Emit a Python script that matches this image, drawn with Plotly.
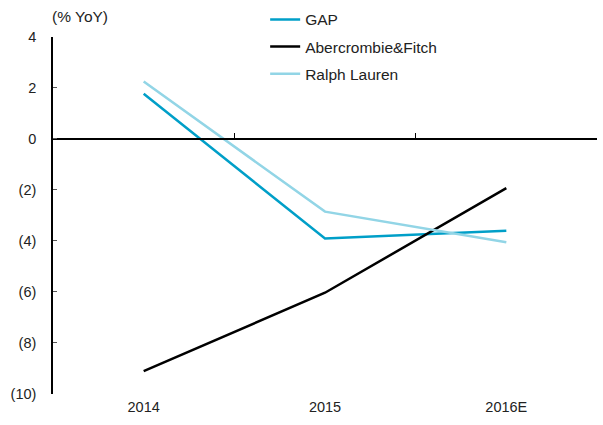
import plotly.graph_objects as go

years = ["2014", "2015", "2016E"]
gap = [1.77, -3.9, -3.6]
abercrombie = [-9.1, -6.03, -1.93]
ralph_lauren = [2.25, -2.85, -4.05]

y_ticks = [4, 2, 0, -2, -4, -6, -8, -10]
y_labels = ["4", "2", "0", "(2)", "(4)", "(6)", "(8)", "(10)"]

font = "Liberation Sans, Arial, sans-serif"

W, H = 603, 425
top_m, bot_m = 4, 31
plot_top = 36  # pixel row of the value 4
dom_top = (H - bot_m - plot_top) / (H - bot_m - top_m)
plot_h = H - bot_m - top_m

fig = go.Figure()
series = [("GAP", gap, "#009fc8"),
          ("Abercrombie&Fitch", abercrombie, "#000000"),
          ("Ralph Lauren", ralph_lauren, "#92d5e6")]
for name, vals, color in series:
    fig.add_trace(go.Scatter(x=years, y=vals, name=name, mode="lines",
                             line=dict(color=color, width=2.5),
                             legendgroup=name))

# invisible trace so the zero-line axis knows the categories
fig.add_trace(go.Scatter(x=years, y=[None, None, None], xaxis="x2",
                         showlegend=False, hoverinfo="skip"))

fig.update_layout(
    width=W, height=H,
    margin=dict(l=53, r=6, t=top_m, b=bot_m),
    plot_bgcolor="white", paper_bgcolor="white",
    font=dict(family=font, size=14.5, color="#222"),
    showlegend=True,
    legend=dict(x=0.39, y=1.003, xanchor="left", yanchor="top",
                font=dict(size=15.5), tracegroupgap=4,
                traceorder="grouped", bgcolor="rgba(0,0,0,0)"),
    xaxis=dict(type="category", range=[-0.5, 2.5], showline=False,
               showgrid=False, zeroline=False, ticks="",
               ticklabelstandoff=2, automargin=False),
    xaxis2=dict(type="category", overlaying="x", anchor="free",
                position=dom_top * 10 / 14, range=[-0.5, 2.5], showline=True,
                linecolor="black", linewidth=1.5, ticks="inside",
                ticklen=5, tickcolor="black", tickson="boundaries",
                showticklabels=False, showgrid=False, zeroline=False,
                automargin=False),
    yaxis=dict(range=[-10, 4], domain=[0, dom_top], tickvals=y_ticks,
               ticktext=y_labels, showline=True, linecolor="black",
               linewidth=1.5, ticks="inside", ticklen=4, tickcolor="#555",
               showgrid=False, zeroline=False, ticklabelstandoff=12,
               automargin=False),
    annotations=[dict(text="(% YoY)", xref="paper", yref="paper",
                      x=(50 - 53) / (W - 53 - 6), y=1 - 12 / plot_h,
                      xanchor="left", yanchor="middle",
                      showarrow=False, font=dict(size=15.5))],
)

fig.write_html("out.html", config={"displayModeBar": False},
               post_script="document.body.style.margin='0';")
